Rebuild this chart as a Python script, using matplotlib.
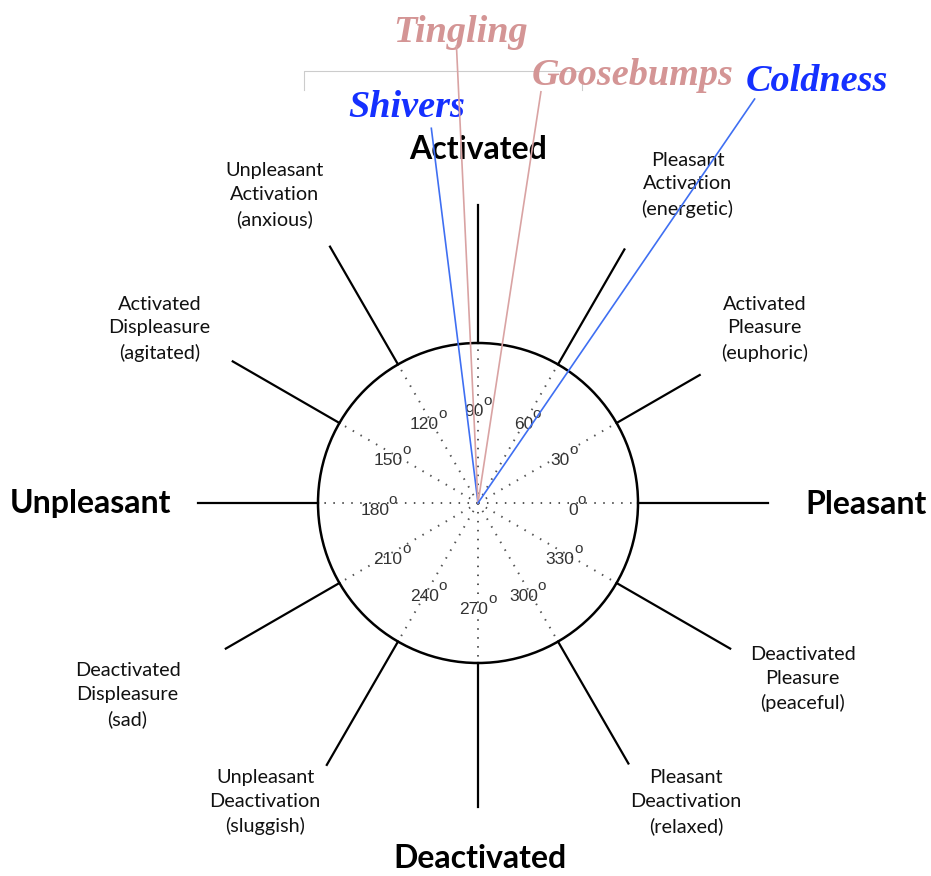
import numpy as np
import matplotlib
matplotlib.use("Agg")
import matplotlib.pyplot as plt
from matplotlib.patches import Circle

# circumplex spokes (degrees) and how far each spoke reaches (circle radius = 1)
spoke_angles = [0, 30, 60, 90, 120, 150, 180, 210, 240, 270, 300, 330]
spoke_reach = [1.81, 1.60, 1.83, 1.86, 1.85, 1.77, 1.75, 1.82, 1.89, 1.90, 1.88, 1.82]

# octant labels
octant_text = ["Pleasant\nActivation\n(energetic)", "Unpleasant\nActivation\n(anxious)",
               "Activated\nDispleasure\n(agitated)", "Activated\nPleasure\n(euphoric)",
               "Deactivated\nDispleasure\n(sad)", "Deactivated\nPleasure\n(peaceful)",
               "Unpleasant\nDeactivation\n(sluggish)", "Pleasant\nDeactivation\n(relaxed)"]
octant_x = [1.31, -1.27, -1.99, 1.79, -2.19, 2.03, -1.33, 1.30]
octant_y = [1.99, 1.925, 1.09, 1.09, -1.20, -1.10, -1.87, -1.87]

axis_text = ["Activated", "Unpleasant", "Pleasant", "Deactivated"]
axis_x = [0.0, -2.42, 2.425, 0.01]
axis_y = [2.21, 0.0, -0.01, -2.22]

# sensations mapped onto the circumplex
sensations = ["Shivers", "Tingling", "Goosebumps", "Coldness"]
sens_angle = [97.1, 92.7, 81.3, 55.6]
sens_len = [2.36, 2.86, 2.60, 3.06]
sens_line_col = ["#3f6ff2", "#d9a3a3", "#d9a3a3", "#3f6ff2"]
sens_text_col = ["#1530ff", "#d49595", "#d49595", "#1530ff"]
sens_offset = [(-18, 8), (3, 3), (66, 5), (45, 6)]  # label offset from line end, points

fig = plt.figure(figsize=(9.31, 8.76), dpi=100)
ax = fig.add_axes([0, 0, 1, 1])
R = 160.0
ax.set_xlim(-478 / R, (931 - 478) / R)
ax.set_ylim(-(876 - 503) / R, 503 / R)
ax.set_aspect('equal')
ax.axis('off')

# faint frame fragment at the top
ax.plot([-1.09, -1.09, 0.65, 0.65], [2.58, 2.7, 2.7, 2.58], color="#cccccc", lw=0.8)

ax.add_patch(Circle((0, 0), 1, fill=False, ec="black", lw=1.8, zorder=3))

for a, r in zip(spoke_angles, spoke_reach):
    t = np.radians(a)
    ax.plot([np.cos(t), r * np.cos(t)], [np.sin(t), r * np.sin(t)], color="black", lw=1.6)
    ax.plot([0, np.cos(t)], [0, np.sin(t)], color="#555555", lw=1.4,
            linestyle=(0, (0.8, 3.8)))
    # degree label: number plus a raised "o"
    lx, ly = 0.62 * np.cos(t) - 0.025, 0.62 * np.sin(t) - 0.045
    num = str(a)
    ax.text(lx, ly, num, ha="center", va="center", fontsize=12.5,
            family="Liberation Sans", color="#333333", zorder=4)
    ax.annotate("o", (lx, ly), xytext=(len(num) * 3.5 + 2.6, 7.5), textcoords="offset points",
                ha="center", va="center", fontsize=11, family="Liberation Sans",
                color="#333333", zorder=4)

for txt, x, y in zip(octant_text, octant_x, octant_y):
    ax.text(x, y, txt, ha="center", va="center", fontsize=14.3, family="Lato",
            linespacing=1.48, color="#111111")

for txt, x, y in zip(axis_text, axis_x, axis_y):
    ax.text(x, y, txt, ha="center", va="center", fontsize=23, family="Lato",
            fontweight="bold", color="black")

for name, a, l, lc, tc, off in zip(sensations, sens_angle, sens_len, sens_line_col,
                                   sens_text_col, sens_offset):
    t = np.radians(a)
    ex, ey = l * np.cos(t), l * np.sin(t)
    ax.plot([0, ex], [0, ey], color=lc, lw=1.2, zorder=5)
    ax.annotate(name, (ex, ey), xytext=off, textcoords="offset points",
                ha="center", va="baseline", fontsize=27.5, family="Liberation Serif",
                fontweight="bold", fontstyle="italic", color=tc)

fig.savefig("out.png", dpi=100)
